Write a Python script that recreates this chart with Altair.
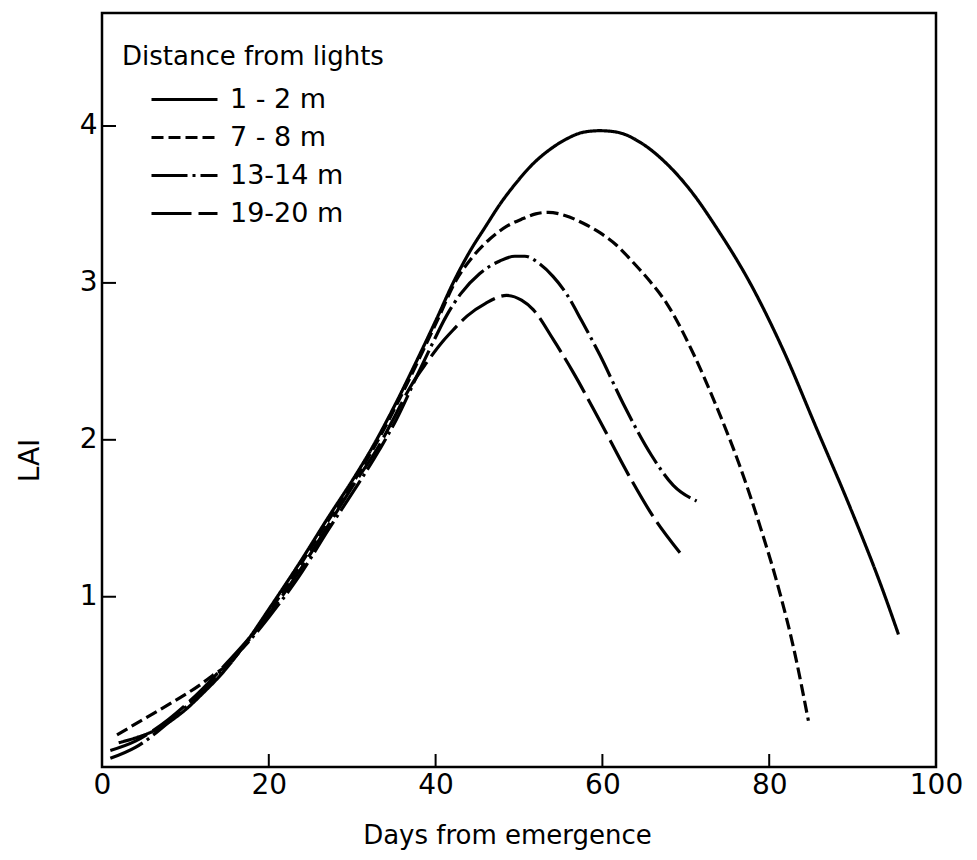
import altair as alt
import pandas as pd

# ---- data ----
series_names = ["1 - 2 m", "7 - 8 m", "13-14 m", "19-20 m"]

days_1_2 = [2, 4, 6, 8, 10, 12, 14.7, 17.7, 20, 23.5, 27.3, 30, 32.5, 35.3, 37.7,
            40.2, 42.1, 44.1, 46, 47.7, 49.7, 51.7, 53.7, 55.8, 57.7, 59.7, 61.8,
            64.7, 67.7, 70.7, 73.7, 77.7, 81.7, 85.7, 89.7, 93.7, 95.5]
lai_1_2 = [0.07, 0.10, 0.14, 0.20, 0.28, 0.38, 0.53, 0.74, 0.92, 1.20, 1.52, 1.74,
           1.96, 2.24, 2.50, 2.78, 3.00, 3.20, 3.36, 3.50, 3.64, 3.76, 3.85, 3.92,
           3.96, 3.97, 3.96, 3.89, 3.76, 3.58, 3.35, 3.00, 2.57, 2.07, 1.57, 1.03, 0.76]

days_7_8 = [1.8, 5, 8.5, 11.8, 13.3, 14.7, 17.7, 20, 23.5, 27.3, 30, 32.5, 35.3,
            37.7, 40.2, 42.5, 44.5, 46.5, 48.5, 50.5, 52, 53.5, 55.5, 57.7, 59.7,
            61.7, 63.7, 65.7, 67.7, 70.9, 73.7, 76.5, 78.9, 81.3, 82.9, 84.7]
lai_7_8 = [0.12, 0.22, 0.33, 0.44, 0.50, 0.55, 0.73, 0.90, 1.18, 1.50, 1.72, 1.94,
           2.22, 2.48, 2.76, 3.02, 3.17, 3.28, 3.36, 3.41, 3.44, 3.45, 3.43, 3.38,
           3.32, 3.24, 3.13, 3.01, 2.87, 2.55, 2.21, 1.83, 1.45, 1.02, 0.68, 0.21]

days_13_14 = [1, 4, 8, 12, 15, 17.7, 20, 23.5, 27.3, 30, 33.3, 35.3, 37.7, 39.5,
              41.3, 43, 45.3, 47.7, 49.5, 50.7, 52.5, 54.1, 55.7, 57.5, 59.7, 62.5,
              65.9, 68.5, 71.3]
lai_13_14 = [-0.03, 0.04, 0.20, 0.40, 0.57, 0.72, 0.87, 1.12, 1.44, 1.66, 1.94,
             2.13, 2.40, 2.60, 2.79, 2.93, 3.06, 3.14, 3.17, 3.17, 3.12, 3.04, 2.93,
             2.76, 2.54, 2.23, 1.90, 1.71, 1.61]

days_19_20 = [1, 4, 8, 12, 15, 17.7, 20, 23.5, 27.3, 30, 33.3, 35.3, 37, 38.9,
              40.9, 42.1, 43.8, 46, 48.5, 50.3, 51.7, 54.1, 56.5, 59.7, 63.1, 66.1, 69.3]
lai_19_20 = [0.02, 0.08, 0.22, 0.41, 0.58, 0.74, 0.89, 1.15, 1.47, 1.70, 1.97,
             2.17, 2.34, 2.49, 2.63, 2.70, 2.79, 2.87, 2.92, 2.89, 2.83, 2.64, 2.43,
             2.12, 1.78, 1.51, 1.28]

x_label_values = [0, 20, 40, 60, 80, 100]
x_tick_values = [20, 40, 60, 80]
y_tick_values = [1, 2, 3, 4]

# ---- table ----
rows = []
for name, xs_, ys_ in zip(series_names,
                          [days_1_2, days_7_8, days_13_14, days_19_20],
                          [lai_1_2, lai_7_8, lai_13_14, lai_19_20]):
    for d, v in zip(xs_, ys_):
        rows.append({"series": name, "day": d, "lai": v})
df = pd.DataFrame(rows)

W, H = 834, 754
FONT = "DejaVu Sans"
xs = alt.Scale(domain=[0, 100], nice=False, zero=False)
ys = alt.Scale(domain=[-0.085, 4.72], nice=False, zero=False)

axis_x = alt.Axis(values=x_label_values, title="Days from emergence", grid=False,
                  domain=False, ticks=False, tickSize=0, labelFlush=False,
                  labelFontSize=28, labelPadding=4, labelColor="black", labelFont=FONT,
                  titleFontSize=26, titleFontWeight="normal", titleFont=FONT,
                  titleColor="black", titlePadding=23, titleX=405, titleAlign="center")
axis_y = alt.Axis(values=y_tick_values, title="LAI", grid=False, domain=False,
                  ticks=False, tickSize=0, labelFlush=False,
                  labelFontSize=28, labelPadding=5, labelColor="black", labelFont=FONT,
                  titleFontSize=28, titleFontWeight="normal", titleFont=FONT,
                  titleColor="black", titleX=-72, titleY=447,
                  titleAlign="center", titleBaseline="middle")

lines = alt.Chart(df).mark_line(color="black", strokeWidth=3.2, interpolate="monotone").encode(
    x=alt.X("day:Q", scale=xs, axis=axis_x, title="Days from emergence"),
    y=alt.Y("lai:Q", scale=ys, axis=axis_y, title="LAI"),
    strokeDash=alt.StrokeDash(
        "series:N",
        scale=alt.Scale(domain=series_names,
                        range=[[1, 0], [12, 5], [36, 5, 3, 5], [40, 7]]),
        legend=alt.Legend(title="Distance from lights", orient="none", legendX=20, legendY=31,
                          symbolType="M0,0H6", symbolSize=484, symbolStrokeWidth=2.8,
                          symbolStrokeColor="black", symbolOffset=16, labelOffset=65,
                          titleFontSize=26, titleFontWeight="normal", titleFont=FONT,
                          titleColor="black", titleLimit=500, labelLimit=300,
                          labelFontSize=27, labelFont=FONT,
                          labelColor="black", titlePadding=16, rowPadding=10, padding=0)),
)

xticks = alt.Chart(pd.DataFrame({"day": x_tick_values})).mark_rule(color="black", strokeWidth=2).encode(
    x=alt.X("day:Q", scale=xs, axis=axis_x, title="Days from emergence"),
    y=alt.value(H), y2=alt.value(H - 13),
)
yticks = alt.Chart(pd.DataFrame({"lai": y_tick_values})).mark_rule(color="black", strokeWidth=2).encode(
    y=alt.Y("lai:Q", scale=ys, axis=axis_y, title="LAI"),
    x=alt.value(0), x2=alt.value(14),
)

chart = alt.layer(lines, xticks, yticks).properties(
    width=W, height=H,
    padding={"left": 102, "top": 13, "right": 41, "bottom": 93},
    autosize=alt.AutoSizeParams(type="none"),
    background="white",
).configure_view(stroke="black", strokeWidth=2.5)

chart.save("out.html", embed_options={"renderer": "svg", "actions": False})
